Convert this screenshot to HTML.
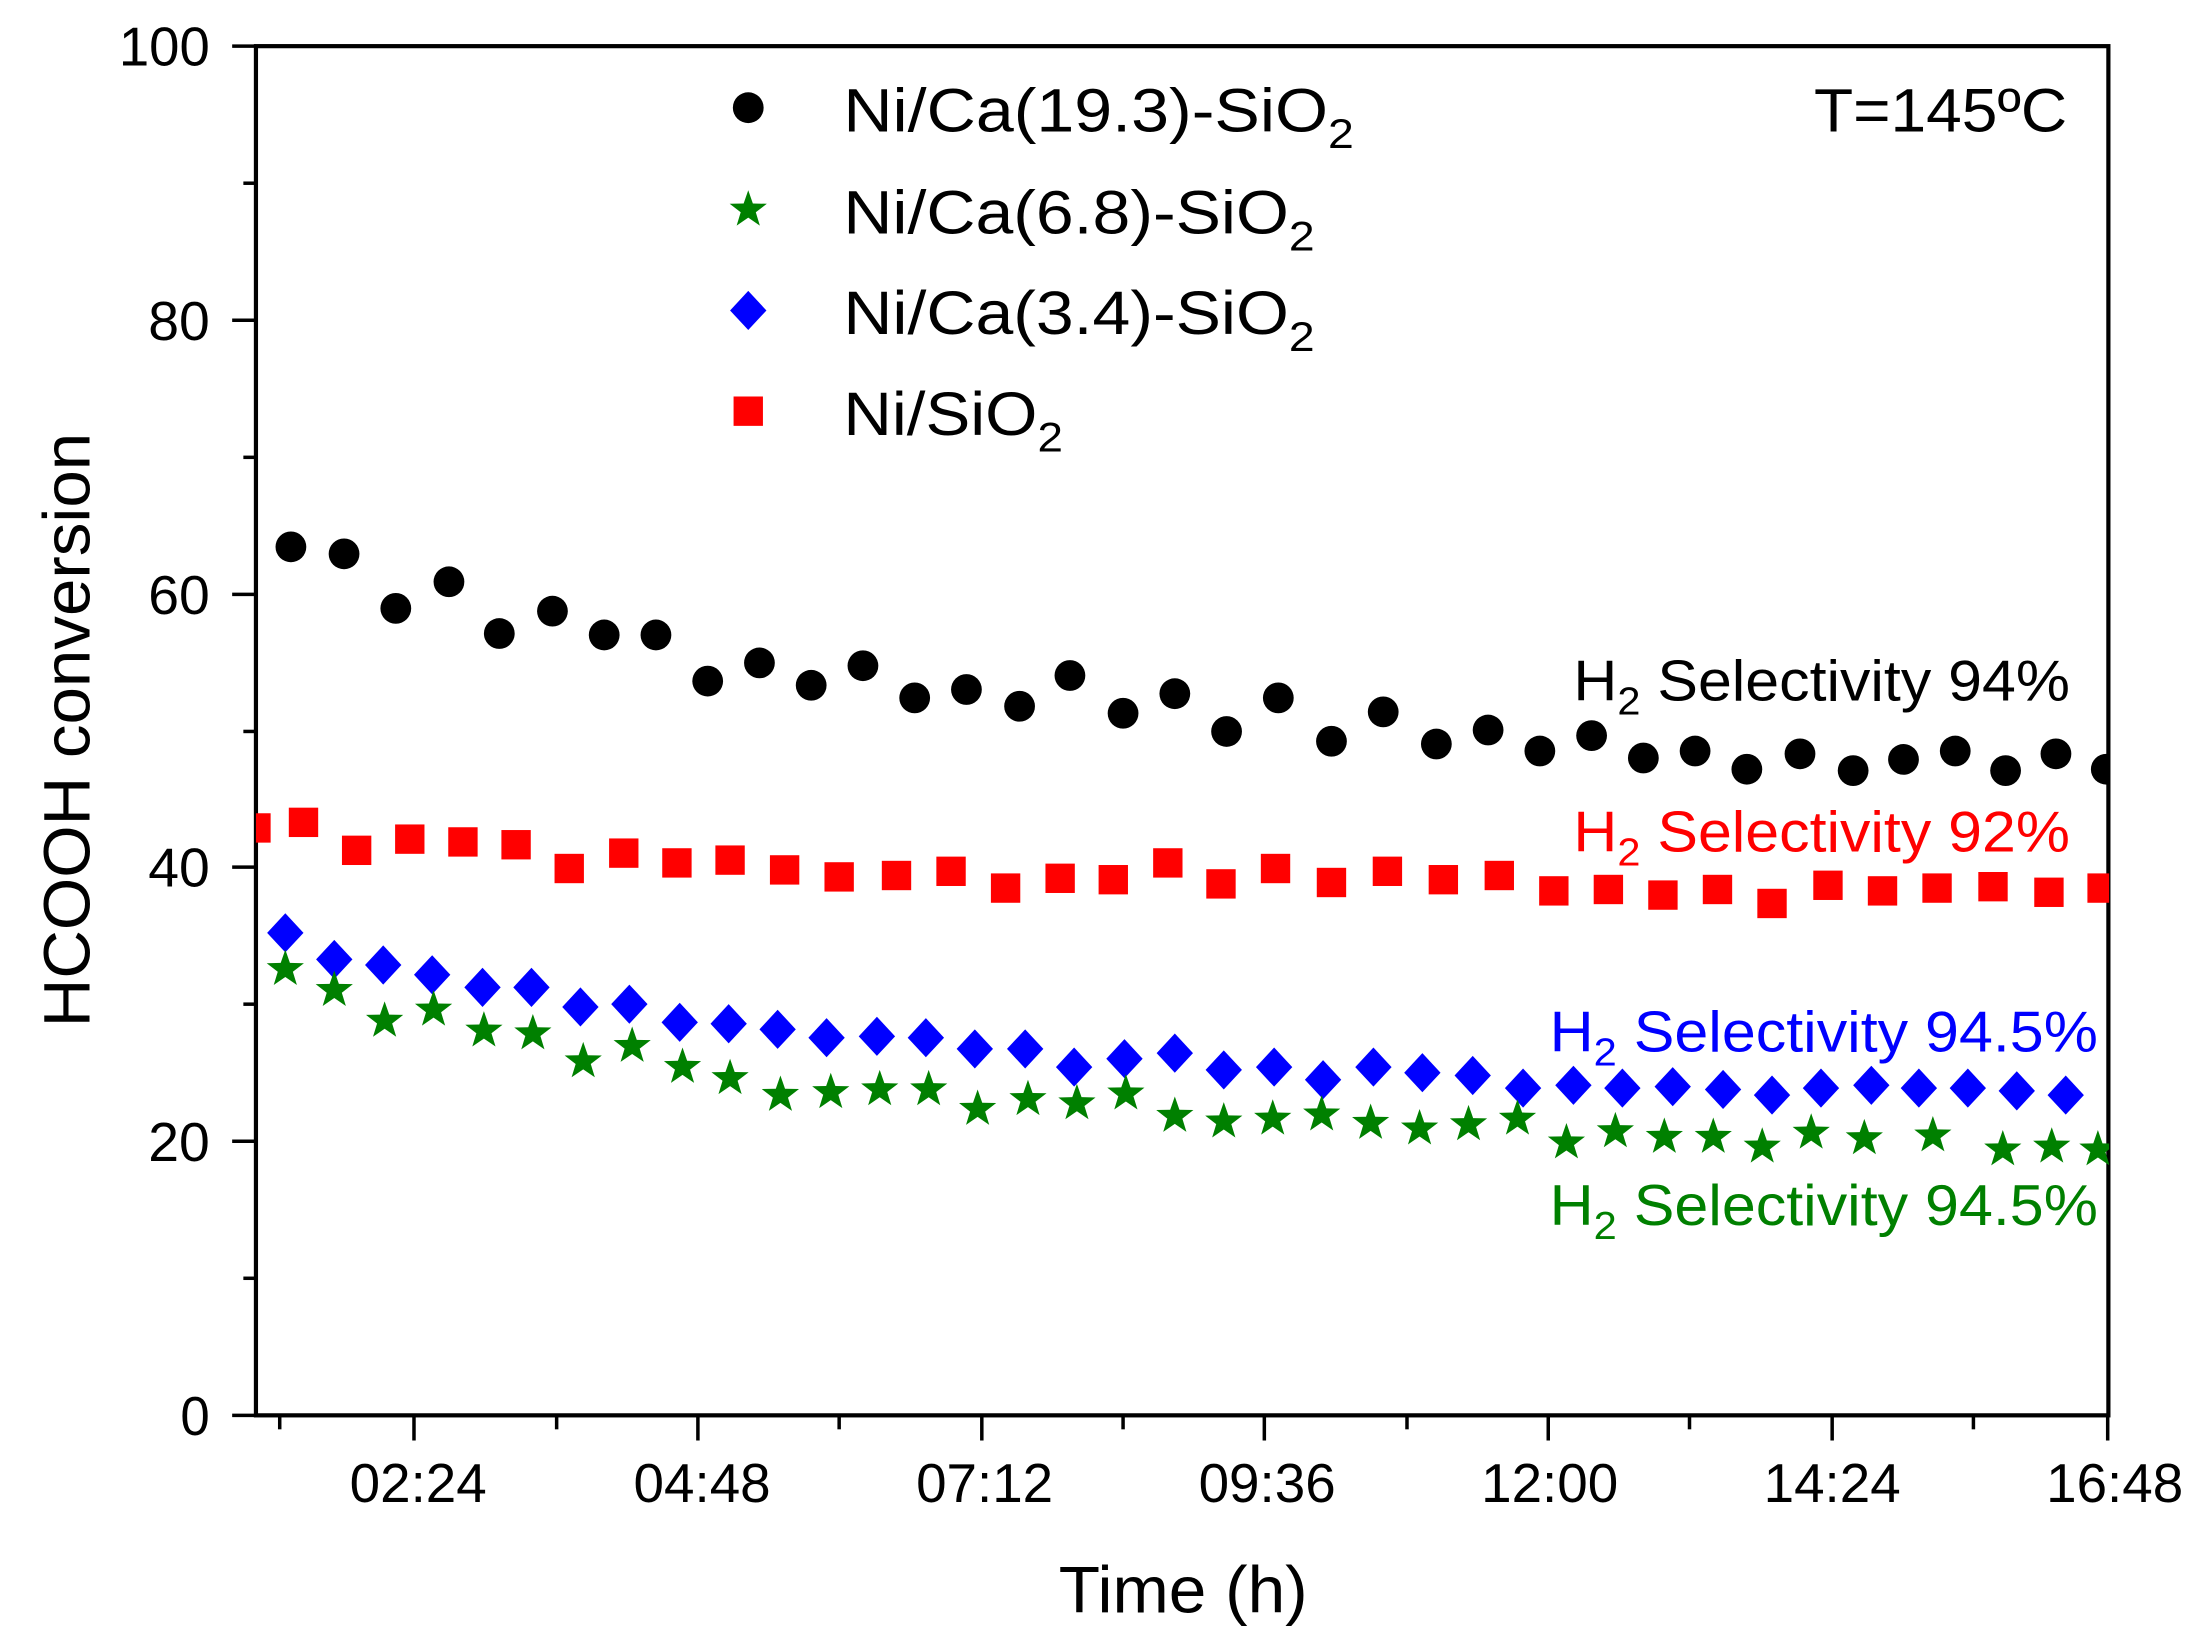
<!DOCTYPE html>
<html><head><meta charset="utf-8"><style>
html,body{margin:0;padding:0;background:#fff;}
svg{display:block;}
text{font-family:"Liberation Sans Narrow","Liberation Sans",Arial,sans-serif;}
</style></head><body>
<svg width="2193" height="1651" viewBox="0 0 1568 1180.5" preserveAspectRatio="none" xmlns="http://www.w3.org/2000/svg">
<defs>
<circle id="c" r="11" fill="#000"/>
<rect id="s" x="-10.5" y="-10.5" width="21" height="21" fill="#ff0000"/>
<polygon id="d" points="0,-14 13,0 0,14 -13,0" fill="#0000ff"/>
<polygon id="st" points="0,-14 3.3,-4.5 13.3,-4.3 5.4,1.8 8.3,11.3 0,5.6 -8.3,11.3 -5.4,1.8 -13.3,-4.3 -3.3,-4.5" fill="#008000"/>
<clipPath id="pc"><rect x="183" y="33" width="1325" height="980"/></clipPath>
</defs>
<rect width="1568" height="1180.5" fill="#fff"/>
<rect x="183" y="33" width="1324.5" height="979" fill="none" stroke="#000" stroke-width="3"/>
<g stroke="#000" stroke-width="2.5">
<line x1="166" y1="1012" x2="183" y2="1012"/><line x1="166" y1="816" x2="183" y2="816"/><line x1="166" y1="620" x2="183" y2="620"/><line x1="166" y1="425" x2="183" y2="425"/><line x1="166" y1="229" x2="183" y2="229"/><line x1="166" y1="33" x2="183" y2="33"/>
<line x1="174" y1="914" x2="183" y2="914"/><line x1="174" y1="718" x2="183" y2="718"/><line x1="174" y1="523" x2="183" y2="523"/><line x1="174" y1="327" x2="183" y2="327"/><line x1="174" y1="131" x2="183" y2="131"/>
<line x1="296" y1="1012" x2="296" y2="1030"/><line x1="499" y1="1012" x2="499" y2="1030"/><line x1="702" y1="1012" x2="702" y2="1030"/><line x1="904" y1="1012" x2="904" y2="1030"/><line x1="1107" y1="1012" x2="1107" y2="1030"/><line x1="1310" y1="1012" x2="1310" y2="1030"/><line x1="1507" y1="1012" x2="1507" y2="1030"/>
<line x1="200" y1="1012" x2="200" y2="1022"/><line x1="398" y1="1012" x2="398" y2="1022"/><line x1="600" y1="1012" x2="600" y2="1022"/><line x1="803" y1="1012" x2="803" y2="1022"/><line x1="1006" y1="1012" x2="1006" y2="1022"/><line x1="1208" y1="1012" x2="1208" y2="1022"/><line x1="1411" y1="1012" x2="1411" y2="1022"/>
</g>
<g font-size="39" fill="#000" text-anchor="end">
<text x="150" y="1026" textLength="21" lengthAdjust="spacingAndGlyphs">0</text><text x="150" y="830" textLength="44" lengthAdjust="spacingAndGlyphs">20</text><text x="150" y="634" textLength="44" lengthAdjust="spacingAndGlyphs">40</text><text x="150" y="439" textLength="44" lengthAdjust="spacingAndGlyphs">60</text><text x="150" y="243" textLength="44" lengthAdjust="spacingAndGlyphs">80</text><text x="150" y="47" textLength="65" lengthAdjust="spacingAndGlyphs">100</text>
</g>
<g font-size="39" fill="#000" text-anchor="middle">
<text x="299" y="1074" textLength="98" lengthAdjust="spacingAndGlyphs">02:24</text>
<text x="502" y="1074" textLength="98" lengthAdjust="spacingAndGlyphs">04:48</text>
<text x="704" y="1074" textLength="98" lengthAdjust="spacingAndGlyphs">07:12</text>
<text x="906" y="1074" textLength="98" lengthAdjust="spacingAndGlyphs">09:36</text>
<text x="1108" y="1074" textLength="98" lengthAdjust="spacingAndGlyphs">12:00</text>
<text x="1310" y="1074" textLength="98" lengthAdjust="spacingAndGlyphs">14:24</text>
<text x="1512" y="1074" textLength="98" lengthAdjust="spacingAndGlyphs">16:48</text>
</g>
<text x="846" y="1153" font-size="47" text-anchor="middle" textLength="178" lengthAdjust="spacingAndGlyphs">Time (h)</text>
<text transform="translate(64,522) rotate(-90)" font-size="47" text-anchor="middle" textLength="425" lengthAdjust="spacingAndGlyphs">HCOOH conversion</text>
<use href="#c" x="535" y="77"/>
<use href="#st" x="535" y="150"/>
<use href="#d" x="535" y="222"/>
<use href="#s" x="535" y="294"/>
<g font-size="44" fill="#000">
<text x="603" y="94" textLength="365" lengthAdjust="spacingAndGlyphs">Ni/Ca(19.3)-SiO<tspan font-size="30" dy="12">2</tspan></text>
<text x="603" y="167" textLength="337" lengthAdjust="spacingAndGlyphs">Ni/Ca(6.8)-SiO<tspan font-size="30" dy="12">2</tspan></text>
<text x="603" y="239" textLength="337" lengthAdjust="spacingAndGlyphs">Ni/Ca(3.4)-SiO<tspan font-size="30" dy="12">2</tspan></text>
<text x="603" y="311" textLength="157" lengthAdjust="spacingAndGlyphs">Ni/SiO<tspan font-size="30" dy="12">2</tspan></text>
<text x="1297" y="94" textLength="181" lengthAdjust="spacingAndGlyphs">T=145ºC</text>
</g>
<g font-size="41">
<text x="1125" y="501" fill="#000" textLength="355" lengthAdjust="spacingAndGlyphs">H<tspan font-size="28" dy="10">2</tspan><tspan dy="-10"> Selectivity 94%</tspan></text>
<text x="1125" y="609" fill="#ff0000" textLength="355" lengthAdjust="spacingAndGlyphs">H<tspan font-size="28" dy="10">2</tspan><tspan dy="-10"> Selectivity 92%</tspan></text>
<text x="1108" y="752" fill="#0000ff" textLength="392" lengthAdjust="spacingAndGlyphs">H<tspan font-size="28" dy="10">2</tspan><tspan dy="-10"> Selectivity 94.5%</tspan></text>
<text x="1108" y="876" fill="#008000" textLength="392" lengthAdjust="spacingAndGlyphs">H<tspan font-size="28" dy="10">2</tspan><tspan dy="-10"> Selectivity 94.5%</tspan></text>
</g>
<g clip-path="url(#pc)">
<use href="#c" x="208" y="391"/><use href="#c" x="246" y="396"/><use href="#c" x="283" y="435"/><use href="#c" x="321" y="416"/><use href="#c" x="357" y="453"/><use href="#c" x="395" y="437"/><use href="#c" x="432" y="454"/><use href="#c" x="469" y="454"/><use href="#c" x="506" y="487"/><use href="#c" x="543" y="474"/><use href="#c" x="580" y="490"/><use href="#c" x="617" y="476"/><use href="#c" x="654" y="499"/><use href="#c" x="691" y="493"/><use href="#c" x="729" y="505"/><use href="#c" x="765" y="483"/><use href="#c" x="803" y="510"/><use href="#c" x="840" y="496"/><use href="#c" x="877" y="523"/><use href="#c" x="914" y="499"/><use href="#c" x="952" y="530"/><use href="#c" x="989" y="509"/><use href="#c" x="1027" y="532"/><use href="#c" x="1064" y="522"/><use href="#c" x="1101" y="537"/><use href="#c" x="1138" y="526"/><use href="#c" x="1175" y="542"/><use href="#c" x="1212" y="537"/><use href="#c" x="1249" y="550"/><use href="#c" x="1287" y="539"/><use href="#c" x="1325" y="551"/><use href="#c" x="1361" y="543"/><use href="#c" x="1398" y="537"/><use href="#c" x="1434" y="551"/><use href="#c" x="1470" y="539"/><use href="#c" x="1506" y="550"/>
<use href="#s" x="183" y="592"/><use href="#s" x="217" y="588"/><use href="#s" x="255" y="608"/><use href="#s" x="293" y="600"/><use href="#s" x="331" y="602"/><use href="#s" x="369" y="604"/><use href="#s" x="407" y="621"/><use href="#s" x="446" y="610"/><use href="#s" x="484" y="617"/><use href="#s" x="522" y="615"/><use href="#s" x="561" y="622"/><use href="#s" x="600" y="627"/><use href="#s" x="641" y="626"/><use href="#s" x="680" y="623"/><use href="#s" x="719" y="635"/><use href="#s" x="758" y="628"/><use href="#s" x="796" y="629"/><use href="#s" x="835" y="617"/><use href="#s" x="873" y="632"/><use href="#s" x="912" y="621"/><use href="#s" x="952" y="631"/><use href="#s" x="992" y="623"/><use href="#s" x="1032" y="629"/><use href="#s" x="1072" y="626"/><use href="#s" x="1111" y="637"/><use href="#s" x="1150" y="636"/><use href="#s" x="1189" y="640"/><use href="#s" x="1228" y="636"/><use href="#s" x="1267" y="646"/><use href="#s" x="1307" y="633"/><use href="#s" x="1346" y="637"/><use href="#s" x="1385" y="635"/><use href="#s" x="1425" y="634"/><use href="#s" x="1465" y="638"/><use href="#s" x="1503" y="635"/>
<use href="#d" x="204" y="667"/><use href="#d" x="239" y="686"/><use href="#d" x="274" y="690"/><use href="#d" x="309" y="697"/><use href="#d" x="345" y="706"/><use href="#d" x="380" y="706"/><use href="#d" x="415" y="720"/><use href="#d" x="450" y="718"/><use href="#d" x="486" y="731"/><use href="#d" x="521" y="732"/><use href="#d" x="556" y="736"/><use href="#d" x="591" y="742"/><use href="#d" x="627" y="741"/><use href="#d" x="662" y="742"/><use href="#d" x="697" y="750"/><use href="#d" x="733" y="750"/><use href="#d" x="768" y="763"/><use href="#d" x="804" y="757"/><use href="#d" x="840" y="753"/><use href="#d" x="875" y="765"/><use href="#d" x="911" y="763"/><use href="#d" x="946" y="772"/><use href="#d" x="982" y="763"/><use href="#d" x="1017" y="767"/><use href="#d" x="1053" y="769"/><use href="#d" x="1089" y="778"/><use href="#d" x="1125" y="776"/><use href="#d" x="1160" y="778"/><use href="#d" x="1196" y="777"/><use href="#d" x="1232" y="779"/><use href="#d" x="1267" y="783"/><use href="#d" x="1302" y="778"/><use href="#d" x="1338" y="776"/><use href="#d" x="1372" y="778"/><use href="#d" x="1407" y="778"/><use href="#d" x="1442" y="780"/><use href="#d" x="1477" y="783"/>
<use href="#st" x="204" y="693"/><use href="#st" x="239" y="708"/><use href="#st" x="275" y="730"/><use href="#st" x="310" y="722"/><use href="#st" x="346" y="737"/><use href="#st" x="381" y="739"/><use href="#st" x="417" y="759"/><use href="#st" x="452" y="748"/><use href="#st" x="488" y="763"/><use href="#st" x="522" y="771"/><use href="#st" x="558" y="783"/><use href="#st" x="594" y="781"/><use href="#st" x="629" y="779"/><use href="#st" x="664" y="779"/><use href="#st" x="699" y="793"/><use href="#st" x="735" y="786"/><use href="#st" x="770" y="789"/><use href="#st" x="805" y="782"/><use href="#st" x="840" y="798"/><use href="#st" x="875" y="802"/><use href="#st" x="910" y="800"/><use href="#st" x="945" y="797"/><use href="#st" x="980" y="803"/><use href="#st" x="1015" y="807"/><use href="#st" x="1050" y="804"/><use href="#st" x="1085" y="800"/><use href="#st" x="1120" y="817"/><use href="#st" x="1155" y="809"/><use href="#st" x="1190" y="813"/><use href="#st" x="1225" y="813"/><use href="#st" x="1260" y="820"/><use href="#st" x="1295" y="810"/><use href="#st" x="1333" y="814"/><use href="#st" x="1382" y="812"/><use href="#st" x="1432" y="822"/><use href="#st" x="1467" y="820"/><use href="#st" x="1500" y="822"/>
</g>
</svg>
</body></html>
